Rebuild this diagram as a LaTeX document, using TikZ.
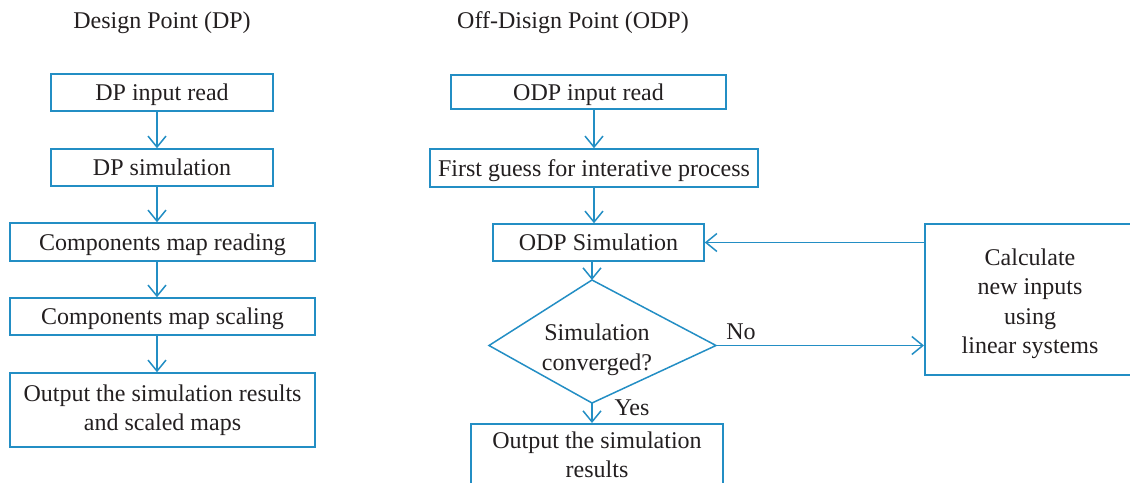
\documentclass[tikz,border=0pt]{standalone}
\usepackage{fontspec}
\setmainfont{Liberation Serif}
\usetikzlibrary{arrows.meta}
\definecolor{fblue}{RGB}{35,142,196}
\definecolor{ftext}{RGB}{35,31,32}
\tikzset{
  box/.style={draw=fblue, line width=1.5pt, inner sep=0pt, align=center, text=ftext, font=\fontsize{24}{29.5}\selectfont},
  oneline/.style={text height=18pt, text depth=2pt},
  lbl/.style={inner sep=0pt, text=ftext, font=\fontsize{24}{29.5}\selectfont},
  flow/.style={draw=fblue, line width=1.5pt, -{Straight Barb[length=11pt,width=18pt,line width=1.5pt]}},
}
\begin{document}
\begin{tikzpicture}[x=1pt,y=-1pt]
\useasboundingbox (0,0) rectangle (1130,482);
\clip (0,0) rectangle (1130,482);
% titles
\node[lbl] (t1) at (162,23) {Design Point (DP)};
\node[lbl] (t2) at (573,23) {Off-Disign Point (ODP)};
% left column
\node[box, oneline, minimum width=222pt, minimum height=37pt] (dp1) at (162,92.5) {DP input read};
\node[box, oneline, minimum width=222pt, minimum height=37pt] (dp2) at (162,167.5) {DP simulation};
\node[box, oneline, minimum width=305pt, minimum height=38pt] (dp3) at (162.5,242) {Components map reading};
\node[box, oneline, minimum width=305pt, minimum height=37pt] (dp4) at (162.5,316.5) {Components map scaling};
\node[box, minimum width=305pt, minimum height=74pt] (dp5) at (162.5,410) {Output the simulation results\\and scaled maps};
\coordinate (lx) at (157,0);
\draw[flow] (dp1.south -| lx) -- (dp2.north -| lx);
\draw[flow] (dp2.south -| lx) -- (dp3.north -| lx);
\draw[flow] (dp3.south -| lx) -- (dp4.north -| lx);
\draw[flow] (dp4.south -| lx) -- (dp5.north -| lx);
% right column
\node[box, oneline, minimum width=275pt, minimum height=34pt] (odp1) at (588.5,92) {ODP input read};
\node[box, oneline, minimum width=328pt, minimum height=38pt] (odp2) at (594,168) {First guess for interative process};
\node[box, oneline, minimum width=211pt, minimum height=37pt] (odp3) at (598.5,242.5) {ODP Simulation};
\coordinate (dt) at (592,280);
\coordinate (dl) at (489,345.5);
\coordinate (db) at (592,403);
\coordinate (dr) at (716,345.5);
\draw[fblue, line width=1.5pt, line join=miter] (dt) -- (dr) -- (db) -- (dl) -- cycle;
\node[lbl, align=center] (dtext) at (597,350) {Simulation\\converged?};
\node[box, minimum width=252pt, minimum height=62pt, anchor=north] (odp5) at (597,423) {Output the simulation\\results};
\node[box, minimum width=216pt, minimum height=151pt, anchor=north west] (calc) at (924,223) {};
\node[lbl, align=center] (calctext) at (1030,304) {Calculate\\new inputs\\using\\linear systems};
\coordinate (rx1) at (594,0);
\coordinate (rx2) at (592,0);
\draw[flow] (odp1.south -| rx1) -- (odp2.north -| rx1);
\draw[flow] (odp2.south -| rx1) -- (odp3.north -| rx1);
\draw[flow] (odp3.south -| rx2) -- (dt);
\draw[flow] (db) -- (odp5.north -| rx2);
\draw[flow] (dr) -- (dr -| calc.west);
\draw[flow] (calc.west |- odp3.east) -- (odp3.east);
\node[lbl] (no) at (741,332) {No};
\node[lbl] (yes) at (632,408) {Yes};
\end{tikzpicture}
\end{document}
